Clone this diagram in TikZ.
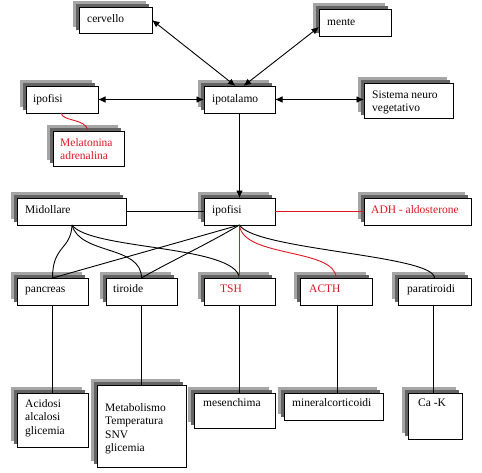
\documentclass[tikz,border=0pt]{standalone}
\usepackage{fontspec}
\setmainfont{Liberation Serif}
\usetikzlibrary{arrows.meta}
\definecolor{txtred}{RGB}{222,24,34}
\definecolor{shA}{RGB}{100,100,100}
\definecolor{shB}{RGB}{165,165,165}
\newcommand\bx[9]{%
  \fill[shB] (#2-6,#3-6) rectangle ++(#4,#5);
  \fill[shA] (#2-3,#3-3) rectangle ++(#4,#5);
  \node[box, minimum width=#4pt, minimum height=#5pt, anchor=north west] (#1) at (#2,#3) {};
  \node[txt, text=#8] (#1-t) at ([xshift=#6pt, yshift=-#7pt]#1.north west) {#9};
}
\newcommand\mlines[1]{\begin{tabular}[t]{@{}l@{}}#1\end{tabular}}
\begin{document}
\begin{tikzpicture}[x=1pt,y=-1pt,
  box/.style={draw=black, fill=white, line width=1pt, inner sep=0pt, outer sep=0pt},
  txt/.style={anchor=base west, inner sep=0pt, font=\fontsize{11.5}{13.5}\selectfont},
  conn/.style={line width=0.9pt, black},
  rconn/.style={line width=0.9pt, txtred},
  >={Latex[length=7.5pt,width=6.5pt]}]
\fill[white] (0,0) rectangle (482,472);
\useasboundingbox (0,0) rectangle (482,472);
% boxes
\bx{cervello}{79}{7}{73}{26}{8}{15}{black}{cervello}
\bx{mente}{319}{9}{72}{27}{8}{16}{black}{mente}
\bx{ipofisiA}{26}{86}{72}{27}{7}{16}{black}{ipofisi}
\bx{ipotalamo}{204}{86}{71}{27}{8}{16}{black}{ipotalamo}
\bx{snv}{364}{83}{89}{35}{8}{15}{black}{\mlines{Sistema neuro\\vegetativo}}
\bx{melat}{53}{131}{71}{35}{7}{15}{txtred}{\mlines{Melatonina\\adrenalina}}
\bx{midollare}{17}{198}{109}{27}{8}{15}{black}{Midollare}
\bx{ipofisiB}{204}{198}{71}{27}{8}{15}{black}{ipofisi}
\bx{adh}{364}{198}{107}{27}{7}{15}{txtred}{ADH - aldosterone}
\bx{pancreas}{17}{278}{71}{27}{8}{14}{black}{pancreas}
\bx{tiroide}{106}{278}{71}{27}{7}{14}{black}{tiroide}
\bx{tsh}{204}{278}{71}{27}{16}{14}{txtred}{TSH}
\bx{acth}{300}{278}{72}{27}{9}{14}{txtred}{ACTH}
\bx{paratiroidi}{398}{278}{73}{27}{9}{14}{black}{paratiroidi}
\bx{acidosi}{17}{393}{71}{54}{8}{14}{black}{\mlines{Acidosi\\alcalosi\\glicemia}}
\bx{metab}{97}{385}{89}{82}{8}{26}{black}{\mlines{Metabolismo\\Temperatura\\SNV\\glicemia}}
\bx{mesench}{194}{393}{81}{35}{9}{13}{black}{mesenchima}
\bx{mineral}{284}{393}{99}{27}{8}{13}{black}{mineralcorticoidi}
\bx{cak}{408}{393}{54}{46}{10}{13}{black}{Ca -K}
% connectors, top part
\draw[conn,<->] (cervello.east) -- ([xshift=-4pt]ipotalamo.north);
\draw[conn,<->] ([yshift=-4.5pt]mente.west) -- ([xshift=4pt]ipotalamo.north);
\draw[conn,<->] (ipofisiA.east) -- (ipotalamo.west);
\draw[conn,<->] (ipotalamo.east) -- (ipotalamo.east -| snv.west);
\draw[conn,->] (ipotalamo.south) -- (ipofisiB.north);
\draw[rconn] ([xshift=35pt]ipofisiA.south west) .. controls ([xshift=37pt,yshift=-9pt]ipofisiA.south west) and ([xshift=33pt,yshift=13pt]melat.north west) .. ([xshift=35pt]melat.north west);
% middle row
\draw[conn] (midollare.east) -- (midollare.east -| ipofisiB.west);
\draw[rconn] (ipofisiB.east) -- (ipofisiB.east -| adh.west);
\coordinate (mb) at ([xshift=55pt]midollare.south west);
\draw[conn] (mb) .. controls ([xshift=-1pt,yshift=-25pt]mb) and ([yshift=33pt]pancreas.north) .. (pancreas.north);
\draw[conn] (mb) .. controls ([xshift=8pt,yshift=-30pt]mb) and ([yshift=33pt]tiroide.north) .. (tiroide.north);
\draw[conn] (mb) .. controls ([xshift=18pt,yshift=-25pt]mb) and ([xshift=-4pt,yshift=33pt]tsh.north) .. (tsh.north);
\draw[conn] (ipofisiB.south) -- (pancreas.north);
\draw[conn] (ipofisiB.south) .. controls ([xshift=-30pt,yshift=-18pt]ipofisiB.south) and ([xshift=20pt,yshift=12pt]tiroide.north) .. (tiroide.north);
\draw[rconn] (ipofisiB.south) -- (tsh.north);
\draw[rconn] (ipofisiB.south) .. controls ([xshift=3pt,yshift=-33pt]ipofisiB.south) and ([yshift=30pt]acth.north) .. (acth.north);
\draw[conn] (ipofisiB.south) .. controls ([xshift=15pt,yshift=-25pt]ipofisiB.south) and ([yshift=23pt]paratiroidi.north) .. (paratiroidi.north);
% bottom verticals
\draw[conn] (pancreas.south) -- (pancreas.south |- acidosi.north);
\draw[conn] (tiroide.south) -- (tiroide.south |- metab.north);
\draw[conn] (tsh.south) -- (tsh.south |- mesench.north);
\draw[conn] ([xshift=1pt]acth.south) -- ([xshift=1pt]acth.south |- mineral.north);
\draw[conn] ([xshift=-1.5pt]paratiroidi.south) -- ([xshift=-1.5pt]paratiroidi.south |- cak.north);
\end{tikzpicture}
\end{document}
